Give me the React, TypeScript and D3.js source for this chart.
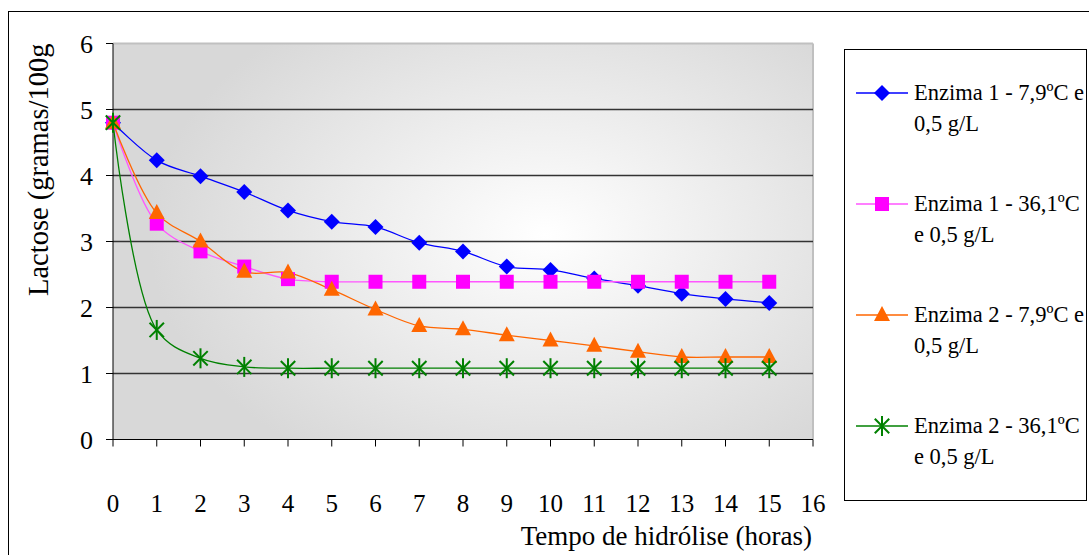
import React from "react";
import * as d3 from "d3";

const hours = [0, 1, 2, 3, 4, 5, 6, 7, 8, 9, 10, 11, 12, 13, 14, 15];
const enz1Cold = [4.8, 4.23, 3.99, 3.75, 3.47, 3.3, 3.22, 2.98, 2.85, 2.62, 2.57, 2.44, 2.33, 2.21, 2.13, 2.07];
const enz1Warm = [4.8, 3.27, 2.85, 2.62, 2.43, 2.39, 2.39, 2.39, 2.39, 2.39, 2.39, 2.39, 2.39, 2.39, 2.39, 2.39];
const enz2Cold = [4.8, 3.43, 3.0, 2.54, 2.53, 2.27, 1.97, 1.72, 1.67, 1.58, 1.5, 1.42, 1.33, 1.25, 1.25, 1.25];
const enz2Warm = [4.8, 1.66, 1.23, 1.1, 1.08, 1.08, 1.08, 1.08, 1.08, 1.08, 1.08, 1.08, 1.08, 1.08, 1.08, 1.08];
const xTicks = [0, 1, 2, 3, 4, 5, 6, 7, 8, 9, 10, 11, 12, 13, 14, 15, 16];
const yTicks = [0, 1, 2, 3, 4, 5, 6];
const seriesNames = [
  ["Enzima 1 - 7,9ºC e", "0,5 g/L"],
  ["Enzima 1 - 36,1ºC", "e 0,5 g/L"],
  ["Enzima 2 - 7,9ºC e", "0,5 g/L"],
  ["Enzima 2 - 36,1ºC", "e 0,5 g/L"],
];
const seriesColors = ["#0000ff", "#ff00ff", "#ff6600", "#008000"];
const lineColors = ["#0000ff", "#ff55ff", "#ff6600", "#008000"];
const seriesMarkers = ["diamond", "square", "triangle", "star"];
const seriesValues = [enz1Cold, enz1Warm, enz2Cold, enz2Warm];

const FONT = "'Liberation Serif', 'Times New Roman', serif";

function Marker({ type, x, y, color }: { type: string; x: number; y: number; color: string }) {
  if (type === "diamond") {
    const s = 8;
    return <path d={`M${x},${y - s}L${x + s},${y}L${x},${y + s}L${x - s},${y}Z`} fill={color} />;
  }
  if (type === "square") {
    const s = 7;
    return <rect x={x - s} y={y - s} width={2 * s} height={2 * s} fill={color} />;
  }
  if (type === "triangle") {
    return <path d={`M${x},${y - 9}L${x + 8},${y + 6}L${x - 8},${y + 6}Z`} fill={color} />;
  }
  const r = 10;
  const d = r * 0.72;
  return (
    <g stroke={color} strokeWidth={2}>
      <line x1={x} y1={y - r} x2={x} y2={y + r} />
      <line x1={x - d} y1={y - d} x2={x + d} y2={y + d} />
      <line x1={x - d} y1={y + d} x2={x + d} y2={y - d} />
    </g>
  );
}

export default function App() {
  const x = d3.scaleLinear().domain([0, 16]).range([113, 813]);
  const y = d3.scaleLinear().domain([0, 6]).range([439.5, 43.5]);
  const line = d3
    .line<number>()
    .x((_, i) => x(hours[i]))
    .y((v) => y(v))
    .curve(d3.curveCatmullRom.alpha(0.5));

  return (
    <svg
      width={1089}
      height={555}
      style={{ position: "fixed", left: 0, top: 0, background: "#fff" }}
      fontFamily={FONT}
    >
      <defs>
        <radialGradient id="bg" gradientUnits="userSpaceOnUse" cx={545} cy={235} r={360} gradientTransform="translate(545,235) scale(1.1,0.75) translate(-545,-235)">
          <stop offset="0" stopColor="#ffffff" />
          <stop offset="1" stopColor="#d8d8d8" />
        </radialGradient>
      </defs>
      <rect x={8.5} y={11.5} width={1100} height={600} fill="none" stroke="#000" strokeWidth={1} />
      <rect x={x(0)} y={y(6)} width={x(16) - x(0)} height={y(0) - y(6)} fill="url(#bg)" />
      <line x1={x(0)} x2={x(16)} y1={y(6)} y2={y(6)} stroke="#c0c0c0" strokeWidth={2} />
      <line x1={x(16)} x2={x(16)} y1={y(6)} y2={y(0)} stroke="#c0c0c0" strokeWidth={2} />
      {yTicks.filter((t) => t > 0 && t < 6).map((t) => (
        <line key={t} x1={x(0)} x2={x(16)} y1={y(t)} y2={y(t)} stroke="#333" strokeWidth={1.3} />
      ))}
      <line x1={x(0)} x2={x(0)} y1={y(6)} y2={y(0)} stroke="#000" strokeWidth={1} />
      <line x1={x(0)} x2={x(16)} y1={y(0)} y2={y(0)} stroke="#000" strokeWidth={1} />
      {yTicks.map((t) => (
        <g key={t}>
          <line x1={x(0) - 7} x2={x(0)} y1={y(t)} y2={y(t)} stroke="#000" />
          <text x={93} y={y(t) + 9} textAnchor="end" fontSize={26}>
            {t}
          </text>
        </g>
      ))}
      {xTicks.map((t) => (
        <g key={t}>
          <line x1={x(t)} x2={x(t)} y1={y(0)} y2={y(0) + 7} stroke="#000" />
          <text x={x(t)} y={512} textAnchor="middle" fontSize={25}>
            {t}
          </text>
        </g>
      ))}
      <text transform="translate(48,296) rotate(-90)" fontSize={28.5} textAnchor="start">
        Lactose (gramas/100g
      </text>
      <text x={812} y={545} fontSize={27} textAnchor="end">
        Tempo de hidrólise (horas)
      </text>
      {seriesValues.map((vals, si) => (
        <path key={si} d={line(vals) || ""} fill="none" stroke={lineColors[si]} strokeWidth={1.3} />
      ))}
      {seriesValues.map((vals, si) => (
        <g key={si}>
          {vals.map((v, i) => (
            <Marker key={i} type={seriesMarkers[si]} x={x(hours[i])} y={y(v)} color={seriesColors[si]} />
          ))}
        </g>
      ))}
      <rect x={844.5} y={49.5} width={242} height={451} fill="#fff" stroke="#000" strokeWidth={1} />
      {seriesNames.map((lines, si) => {
        const cy = 93 + si * 111;
        return (
          <g key={si}>
            <line x1={856} x2={908} y1={cy} y2={cy} stroke={lineColors[si]} strokeWidth={1.3} />
            <Marker type={seriesMarkers[si]} x={882} y={cy} color={seriesColors[si]} />
            <text x={914} y={cy + 7} fontSize={22.5}>
              {lines[0]}
            </text>
            <text x={914} y={cy + 38} fontSize={22.5}>
              {lines[1]}
            </text>
          </g>
        );
      })}
    </svg>
  );
}
